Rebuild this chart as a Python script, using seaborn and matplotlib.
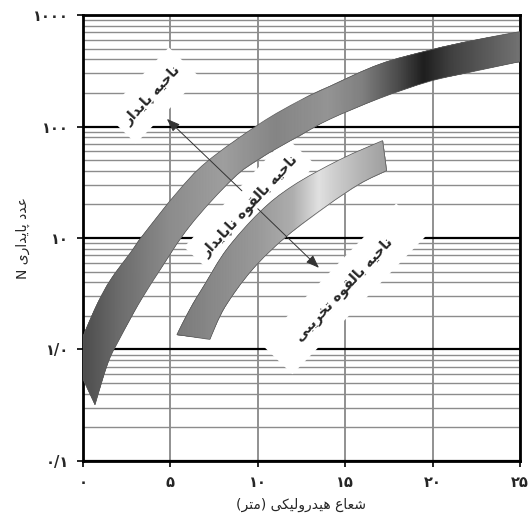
import numpy as np
import seaborn as sns
import matplotlib.pyplot as plt
from matplotlib.path import Path
from matplotlib.patches import PathPatch, Rectangle
from matplotlib.transforms import Affine2D, ScaledTranslation

# upper band (boundary stable / potentially unstable)
band1_upper_x = [0, 0.86, 1.6, 2.74, 3.43, 5.37, 7.09, 10.11, 12.4, 14.11, 16.97, 19.83, 22.4, 25]
band1_upper_y = [1.31, 2.65, 4.27, 7.48, 10.6, 25.5, 48.4, 106, 171, 229, 362, 484, 595, 710]
band1_lower_x = [0, 0.69, 1.43, 2.17, 3.14, 4.29, 6.11, 8.57, 10.11, 12.4, 14.11, 16.97, 19.83, 22.4, 25]
band1_lower_y = [0.54, 0.32, 0.76, 1.31, 2.49, 4.84, 12.8, 34, 51.5, 83, 116, 179, 254, 313, 382]

# lower band (boundary potentially unstable / potentially caving)
band2_upper_x = [5.37, 6.11, 6.97, 8.23, 10.11, 12.0, 14.69, 17.14]
band2_upper_y = [1.36, 2.29, 3.85, 7.94, 17.1, 29.4, 50.4, 74.8]
band2_lower_x = [7.26, 8.11, 9.71, 11.66, 13.94, 15.83, 17.37]
band2_lower_y = [1.23, 2.39, 5.25, 10.4, 19.4, 30.6, 40.2]

# grey level of the shading along x (0 = black, 1 = white)
band1_shade_x = [0, 2, 5, 8, 11, 14, 16, 18, 19.5, 21, 23, 25]
band1_shade = [0.30, 0.42, 0.55, 0.62, 0.52, 0.58, 0.50, 0.30, 0.12, 0.25, 0.35, 0.45]
band2_shade_x = [5.4, 8, 10, 12, 13.5, 14.5, 16, 17.4]
band2_shade = [0.48, 0.55, 0.60, 0.68, 0.88, 0.80, 0.70, 0.62]

x_ticks = [0, 5, 10, 15, 20, 25]
x_tick_labels = ['۰', '۵', '۱۰', '۱۵', '۲۰', '۲۵']
y_ticks = [0.1, 1, 10, 100, 1000]
y_tick_labels = ['۰/۱', '۱/۰', '۱۰', '۱۰۰', '۱۰۰۰']

zone_labels = ['ناحیه پایدار', 'ناحیه بالقوه ناپایدار', 'ناحیه بالقوه تخریبی']
zone_x = [3.97, 9.54, 14.95]
zone_y = [190, 19.4, 3.5]

# presentation forms: isolated, final, initial, medial
FORMS = {
    'ا': ('\uFE8D', '\uFE8E', None, None),
    'ب': ('\uFE8F', '\uFE90', '\uFE91', '\uFE92'),
    'پ': ('\uFB56', '\uFB57', '\uFB58', '\uFB59'),
    'ت': ('\uFE95', '\uFE96', '\uFE97', '\uFE98'),
    'ح': ('\uFEA1', '\uFEA2', '\uFEA3', '\uFEA4'),
    'خ': ('\uFEA5', '\uFEA6', '\uFEA7', '\uFEA8'),
    'د': ('\uFEA9', '\uFEAA', None, None),
    'ر': ('\uFEAD', '\uFEAE', None, None),
    'ش': ('\uFEB5', '\uFEB6', '\uFEB7', '\uFEB8'),
    'ع': ('\uFEC9', '\uFECA', '\uFECB', '\uFECC'),
    'ق': ('\uFED5', '\uFED6', '\uFED7', '\uFED8'),
    'ک': ('\uFB8E', '\uFB8F', '\uFB90', '\uFB91'),
    'ل': ('\uFEDD', '\uFEDE', '\uFEDF', '\uFEE0'),
    'م': ('\uFEE1', '\uFEE2', '\uFEE3', '\uFEE4'),
    'ن': ('\uFEE5', '\uFEE6', '\uFEE7', '\uFEE8'),
    'ه': ('\uFEE9', '\uFEEA', '\uFEEB', '\uFEEC'),
    'و': ('\uFEED', '\uFEEE', None, None),
    'ی': ('\uFBFC', '\uFBFD', '\uFBFE', '\uFBFF'),
}


def shape_word(w):
    # join letters and return them in visual (left to right) order
    out = []
    for i, c in enumerate(w):
        if c not in FORMS:
            out.append(c)
            continue
        prev = w[i - 1] if i > 0 else None
        nxt = w[i + 1] if i + 1 < len(w) else None
        jp = prev in FORMS and FORMS[prev][2] is not None
        jn = FORMS[c][2] is not None and nxt in FORMS
        out.append(FORMS[c][3 if jp and jn else 1 if jp else 2 if jn else 0])
    return ''.join(reversed(out))


def rtl(text):
    return ' '.join(shape_word(w) for w in reversed(text.split(' ')))


def smooth(xs, ys):
    # catmull-rom through the read points, as cubic bezier pieces (x, log y space)
    p = np.column_stack([xs, np.log10(ys)])
    verts = []
    for i in range(len(p) - 1):
        p0 = p[max(i - 1, 0)]
        p3 = p[min(i + 2, len(p) - 1)]
        c1 = p[i] + (p[i + 1] - p0) / 6
        c2 = p[i + 1] - (p3 - p[i]) / 6
        verts += [c1, c2, p[i + 1]]
    v = np.array(verts)
    v[:, 1] = 10 ** v[:, 1]
    return [tuple(a) for a in v]


def band_path(ux, uy, lx, ly, n_straight=0):
    verts = [(ux[0], uy[0])]
    codes = [Path.MOVETO]
    seg = smooth(ux, uy)
    verts += seg
    codes += [Path.CURVE4] * len(seg)
    rx, ry = lx[n_straight:][::-1], ly[n_straight:][::-1]
    verts.append((rx[0], ry[0]))
    codes.append(Path.LINETO)
    seg = smooth(rx, ry)
    verts += seg
    codes += [Path.CURVE4] * len(seg)
    for x, y in list(zip(lx[:n_straight], ly[:n_straight]))[::-1]:
        verts.append((x, y))
        codes.append(Path.LINETO)
    verts.append((ux[0], uy[0]))
    codes.append(Path.CLOSEPOLY)
    return Path(verts, codes)


def rot_box(ax, x, y, w, h, angle):
    tr = Affine2D().rotate_deg(angle) + ScaledTranslation(x, y, ax.transData)
    ax.add_patch(Rectangle((-w / 2, -h / 2), w, h, transform=tr,
                           facecolor='white', edgecolor='none', zorder=2.5))


def gradient_band(ax, ux, uy, lx, ly, sx, sv, n_straight=0):
    path = band_path(ux, uy, lx, ly, n_straight)
    xs = np.linspace(min(ux + lx), max(ux + lx), 300)
    shade = np.interp(xs, sx, sv)
    X, Y = np.meshgrid(xs, [0.1, 1000])
    mesh = ax.pcolormesh(X, Y, np.tile(shade, (2, 1)), cmap='gray', vmin=0, vmax=1,
                         shading='gouraud', zorder=3)
    mesh.set_clip_path(PathPatch(path, transform=ax.transData))
    ax.add_patch(PathPatch(path, facecolor='none', edgecolor='0.35', lw=0.5, zorder=3.5))


sns.set_style('white')
plt.rcParams['font.family'] = ['DejaVu Sans']

fig = plt.figure(figsize=(5.32, 5.16), dpi=100)
ax = fig.add_axes([0.156, 0.1066, 0.8214, 0.8643])
ax.set_yscale('log')
ax.set_xlim(0, 25)
ax.set_ylim(0.1, 1000)

# grid
ax.set_axisbelow(True)
ax.set_xticks(x_ticks)
ax.set_yticks(y_ticks)
ax.set_xticks([], minor=True)
ax.grid(axis='y', which='major', color='black', lw=1.6)
ax.grid(axis='y', which='minor', color='0.55', lw=1.0)
ax.grid(axis='x', which='major', color='0.45', lw=1.1)
ax.tick_params(axis='y', which='minor', length=0)
ax.tick_params(axis='both', which='major', length=4, width=1.2, color='black',
               direction='out', left=True, bottom=True, pad=6)

gradient_band(ax, band1_upper_x, band1_upper_y, band1_lower_x, band1_lower_y,
              band1_shade_x, band1_shade, n_straight=1)
gradient_band(ax, band2_upper_x, band2_upper_y, band2_lower_x, band2_lower_y,
              band2_shade_x, band2_shade)

# white label boxes
rot_box(ax, zone_x[0], zone_y[0], 92, 43, 46)
rot_box(ax, zone_x[1], zone_y[1], 150, 40, 47)
rot_box(ax, zone_x[2], zone_y[2], 195, 44, 46)
for lab, x, y in zip(zone_labels, zone_x, zone_y):
    ax.text(x, y, rtl(lab), rotation=47, rotation_mode='anchor', ha='center', va='center',
            fontsize=10, fontweight='bold', zorder=6)

# arrows through the middle label
arrow = dict(arrowstyle='-|>,head_length=0.8,head_width=0.3', color='0.2', lw=0.7,
             shrinkA=0, shrinkB=0)
ax.annotate('', xy=(4.8, 117), xytext=(9.09, 26.5), arrowprops=arrow, zorder=5)
ax.annotate('', xy=(13.5, 5.4), xytext=(10.0, 18.3), arrowprops=arrow, zorder=5)

ax.set_xticklabels(x_tick_labels, fontsize=10.5, fontweight='bold')
ax.set_yticklabels(y_tick_labels, fontsize=10.5, fontweight='bold')
ax.set_xlabel('(' + shape_word('متر') + ') ' + shape_word('هیدرولیکی') + ' ' + shape_word('شعاع'),
              fontsize=10, labelpad=6)
ax.set_ylabel('N ' + rtl('عدد پایداری'), fontsize=10, labelpad=2)

for s in ax.spines.values():
    s.set_visible(True)
    s.set_color('black')
    s.set_linewidth(2)

plt.savefig('out.png', dpi=100)
